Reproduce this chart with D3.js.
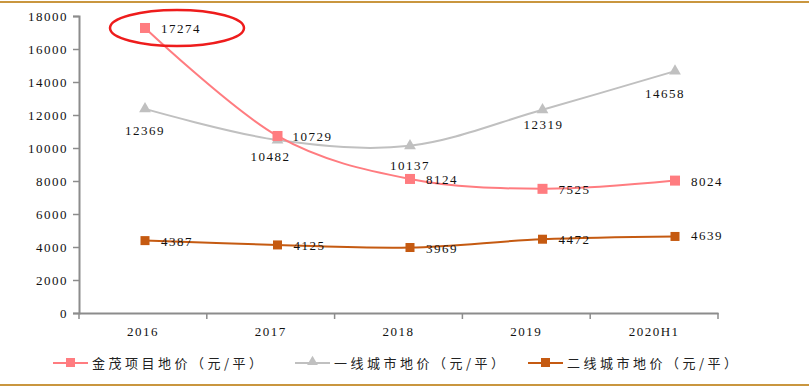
<!DOCTYPE html>
<html>
<head>
<meta charset="utf-8">
<script src="https://cdn.jsdelivr.net/npm/d3@7"></script>
<style>
  body { margin: 0; background: #fff; }
  text { font-family: "Liberation Serif", "DejaVu Serif", serif; }
  .cjk { font-family: "Noto Sans CJK SC", sans-serif; }
</style>
</head>
<body>
<div id="chart"></div>
<script>
// data
const years = ["2016", "2017", "2018", "2019", "2020H1"];
const jinmao = [17274, 10729, 8124, 7525, 8024];
const tier1 = [12369, 10482, 10137, 12319, 14658];
const tier2 = [4387, 4125, 3969, 4472, 4639];
const yTicks = [0, 2000, 4000, 6000, 8000, 10000, 12000, 14000, 16000, 18000];
const names = ["金茂项目地价（元/平）", "一线城市地价（元/平）", "二线城市地价（元/平）"];

let width = 809, height = 388;
let margin = { top: 16, bottom: 75, left: 79, right: 91 };

let svg = d3.select('#chart')
            .append('svg')
            .attr('width', width)
            .attr('height', height);

// gold rules top and bottom
svg.append('line').attr('x1', 0).attr('x2', width).attr('y1', 2).attr('y2', 2)
   .attr('stroke', '#c9963f').attr('stroke-width', 2);
svg.append('line').attr('x1', 0).attr('x2', width).attr('y1', 385).attr('y2', 385)
   .attr('stroke', '#c9963f').attr('stroke-width', 2);

let xScale = d3.scaleBand()
               .domain(years)
               .range([margin.left, width - margin.right]);

// the plotted points sit slightly off the band centres in the original
let xPoint = d3.scalePoint()
               .domain(years)
               .range([145, 675]);

let yScale = d3.scaleLinear()
               .domain([0, 18000])
               .range([height - margin.bottom, margin.top]);

// axes
let yAxis = svg.append('g')
  .attr('transform', `translate(${margin.left},0)`)
  .call(d3.axisLeft(yScale).tickValues(yTicks).tickSize(6).tickPadding(5).tickFormat(d3.format('d')));

let xAxis = svg.append('g')
  .attr('transform', `translate(0,${height - margin.bottom})`)
  .call(d3.axisBottom(xScale).tickSize(0).tickPadding(14));

// x tick marks sit between the categories
xAxis.selectAll('.sep')
  .data(d3.range(years.length + 1))
  .enter()
  .append('line')
  .attr('x1', i => margin.left + i * xScale.bandwidth())
  .attr('x2', i => margin.left + i * xScale.bandwidth())
  .attr('y1', 0)
  .attr('y2', 6)
  .attr('stroke', '#8c8c8c')
  .attr('stroke-width', 1.5);

[yAxis, xAxis].forEach(ax => {
  ax.select('.domain').attr('stroke', '#8c8c8c').attr('stroke-width', 2);
  ax.selectAll('.tick line').attr('stroke', '#8c8c8c').attr('stroke-width', 1.5);
  ax.selectAll('.tick text')
    .attr('fill', '#111')
    .style('font-size', '13px')
    .style('letter-spacing', '1.5px')
    .style('font-family', '"Liberation Serif", serif');
});

const line = d3.line()
  .x((d, i) => xPoint(years[i]))
  .y(d => yScale(d))
  .curve(d3.curveCardinal.tension(0));

const series = [
  { values: tier2, color: '#c55a11', marker: 'square', size: 9, dx: [16, 16, 16, 16, 16], dy: [5, 5, 5, 5, 4], anchor: 'start' },
  { values: tier1, color: '#c0c0c0', marker: 'triangle', size: 10, dx: [0, -7, 0, 1, -10], dy: [26, 21, 24, 19, 27], anchor: 'middle' },
  { values: jinmao, color: '#ff7c80', marker: 'square', size: 10, dx: [16, 15, 16, 16, 16], dy: [5, 5, 5, 5, 5], anchor: 'start' }
];

series.forEach(s => {
  svg.append('path')
    .datum(s.values)
    .attr('fill', 'none')
    .attr('stroke', s.color)
    .attr('stroke-width', 2)
    .attr('d', line);

  s.values.forEach((v, i) => {
    const x = xPoint(years[i]), y = yScale(v);
    if (s.marker === 'square') {
      svg.append('rect')
        .attr('x', x - s.size / 2).attr('y', y - s.size / 2)
        .attr('width', s.size).attr('height', s.size)
        .attr('fill', s.color);
    } else {
      svg.append('path')
        .attr('d', d3.symbol(d3.symbolTriangle, 60)())
        .attr('transform', `translate(${x},${y})`)
        .attr('fill', s.color);
    }
    svg.append('text')
      .attr('x', x + s.dx[i])
      .attr('y', y + s.dy[i])
      .attr('text-anchor', s.anchor)
      .attr('fill', '#111')
      .style('font-size', '13px')
      .style('letter-spacing', '1.5px')
      .text(v);
  });
});

// red highlight ring around the 2016 project price
svg.append('ellipse')
  .attr('cx', 177).attr('cy', 28)
  .attr('rx', 67).attr('ry', 18)
  .attr('fill', 'none')
  .attr('stroke', '#ee1c1c')
  .attr('stroke-width', 2.5);

// legend
const legendX = [53, 295, 528];
const legendSeries = [series[2], series[1], series[0]];
legendSeries.forEach((s, i) => {
  const g = svg.append('g').attr('transform', `translate(${legendX[i]},363)`);
  g.append('line').attr('x1', 0).attr('x2', 35).attr('y1', 0).attr('y2', 0)
   .attr('stroke', s.color).attr('stroke-width', 2);
  if (s.marker === 'square') {
    g.append('rect').attr('x', 13).attr('y', -5).attr('width', 9).attr('height', 9).attr('fill', s.color);
  } else {
    g.append('path').attr('d', d3.symbol(d3.symbolTriangle, 50)()).attr('transform', 'translate(17.5,-1)').attr('fill', s.color);
  }
  g.append('text')
    .attr('class', 'cjk')
    .attr('x', 39).attr('y', 5)
    .attr('fill', '#222')
    .style('font-size', '13px')
    .style('letter-spacing', '3.5px')
    .text(names[i]);
});
</script>
</body>
</html>
